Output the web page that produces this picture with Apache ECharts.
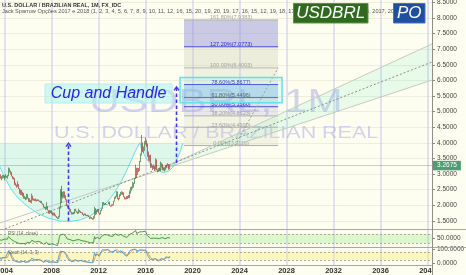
<!DOCTYPE html>
<html>
<head>
<meta charset="utf-8">
<script src="https://cdn.jsdelivr.net/npm/echarts@6.0.0/dist/echarts.min.js"></script>
<style>
html,body{margin:0;padding:0;background:#fefef0;}
#chart{width:466px;height:275px;}
</style>
</head>
<body>
<div id="chart"></div>
<script>
// ---------------- DATA ----------------
const months = [
'2003-07','2003-08','2003-09','2003-10','2003-11','2003-12',
'2004-01','2004-02','2004-03','2004-04','2004-05','2004-06','2004-07','2004-08','2004-09','2004-10','2004-11','2004-12',
'2005-01','2005-02','2005-03','2005-04','2005-05','2005-06','2005-07','2005-08','2005-09','2005-10','2005-11','2005-12',
'2006-01','2006-02','2006-03','2006-04','2006-05','2006-06','2006-07','2006-08','2006-09','2006-10','2006-11','2006-12',
'2007-01','2007-02','2007-03','2007-04','2007-05','2007-06','2007-07','2007-08','2007-09','2007-10','2007-11','2007-12',
'2008-01','2008-02','2008-03','2008-04','2008-05','2008-06','2008-07','2008-08','2008-09','2008-10','2008-11','2008-12',
'2009-01','2009-02','2009-03','2009-04','2009-05','2009-06','2009-07','2009-08','2009-09','2009-10','2009-11','2009-12',
'2010-01','2010-02','2010-03','2010-04','2010-05','2010-06','2010-07','2010-08','2010-09','2010-10','2010-11','2010-12',
'2011-01','2011-02','2011-03','2011-04','2011-05','2011-06','2011-07','2011-08','2011-09','2011-10','2011-11','2011-12',
'2012-01','2012-02','2012-03','2012-04','2012-05','2012-06','2012-07','2012-08','2012-09','2012-10','2012-11','2012-12',
'2013-01','2013-02','2013-03','2013-04','2013-05','2013-06','2013-07','2013-08','2013-09','2013-10','2013-11','2013-12',
'2014-01','2014-02','2014-03','2014-04','2014-05','2014-06','2014-07','2014-08','2014-09','2014-10','2014-11','2014-12',
'2015-01','2015-02','2015-03','2015-04','2015-05','2015-06','2015-07','2015-08','2015-09','2015-10','2015-11','2015-12',
'2016-01','2016-02','2016-03','2016-04','2016-05','2016-06','2016-07','2016-08','2016-09','2016-10','2016-11','2016-12',
'2017-01','2017-02','2017-03','2017-04','2017-05','2017-06','2017-07','2017-08','2017-09','2017-10','2017-11','2017-12',
'2018-01','2018-02'];

const opens = [
2.87,2.97,2.97,2.92,2.86,2.95,
2.89,2.94,2.91,2.91,2.94,3.13,3.11,3.03,2.93,2.86,2.86,2.73,
2.65,2.63,2.60,2.67,2.53,2.40,2.35,2.39,2.36,2.22,2.25,2.21,
2.34,2.22,2.13,2.16,2.09,2.30,2.16,2.18,2.14,2.17,2.14,2.17,
2.14,2.12,2.12,2.05,2.03,1.93,1.93,1.88,1.96,1.83,1.74,1.78,
1.78,1.76,1.68,1.75,1.66,1.63,1.60,1.56,1.63,1.91,2.12,2.33,
2.31,2.31,2.38,2.31,2.18,1.97,1.95,1.87,1.88,1.78,1.74,1.75,
1.74,1.87,1.81,1.78,1.73,1.82,1.80,1.76,1.76,1.69,1.70,1.72,
1.66,1.67,1.66,1.63,1.57,1.58,1.56,1.55,1.59,1.85,1.72,1.81,
1.87,1.74,1.71,1.82,1.89,2.02,2.02,2.05,2.03,2.03,2.03,2.10,
2.05,1.99,1.98,2.01,2.00,2.13,2.22,2.29,2.39,2.22,2.20,2.33,
2.36,2.41,2.33,2.26,2.23,2.24,2.20,2.26,2.24,2.45,2.47,2.57,
2.66,2.68,2.86,3.20,3.00,3.17,3.10,3.41,3.62,3.96,3.86,3.87,
3.96,4.00,3.98,3.59,3.44,3.61,3.21,3.24,3.23,3.25,3.18,3.40,
3.26,3.13,3.10,3.17,3.19,3.24,3.31,3.12,3.15,3.17,3.28,3.27,
3.31,3.16];

const highs = [
3.00,3.10,2.99,2.93,2.97,2.96,
2.95,2.99,2.94,2.97,3.21,3.18,3.11,3.06,2.94,2.90,2.87,2.79,
2.72,2.66,2.77,2.68,2.54,2.50,2.49,2.43,2.39,2.30,2.26,2.37,
2.35,2.24,2.22,2.17,2.37,2.31,2.22,2.20,2.22,2.18,2.19,2.18,
2.15,2.14,2.14,2.06,2.04,1.96,1.95,2.10,1.97,1.84,1.84,1.83,
1.82,1.77,1.76,1.76,1.70,1.65,1.61,1.66,1.96,2.52,2.45,2.62,
2.42,2.45,2.44,2.32,2.19,2.02,1.99,1.91,1.88,1.79,1.77,1.78,
1.88,1.89,1.82,1.79,1.89,1.84,1.81,1.78,1.77,1.72,1.74,1.73,
1.69,1.69,1.68,1.63,1.64,1.62,1.59,1.65,1.95,1.90,1.86,1.88,
1.88,1.75,1.84,1.90,2.10,2.10,2.06,2.07,2.04,2.04,2.11,2.12,
2.06,1.99,2.03,2.03,2.14,2.27,2.30,2.45,2.44,2.24,2.35,2.42,
2.45,2.43,2.41,2.28,2.25,2.29,2.30,2.33,2.47,2.58,2.60,2.75,
2.72,2.88,3.30,3.20,3.20,3.19,3.42,3.66,4.25,4.01,3.88,4.05,
4.17,4.08,3.98,3.72,3.61,3.62,3.34,3.27,3.31,3.26,3.50,3.47,
3.28,3.14,3.18,3.21,3.40,3.36,3.32,3.21,3.21,3.28,3.30,3.35,
3.32,3.28];

const lows = [
2.83,2.95,2.85,2.80,2.85,2.87,
2.80,2.88,2.87,2.85,2.93,3.05,2.98,2.92,2.84,2.82,2.72,2.65,
2.62,2.56,2.59,2.52,2.37,2.33,2.32,2.28,2.21,2.20,2.16,2.18,
2.21,2.11,2.10,2.08,2.06,2.15,2.15,2.13,2.13,2.12,2.13,2.13,
2.10,2.07,2.05,2.01,1.92,1.90,1.85,1.86,1.83,1.73,1.72,1.75,
1.72,1.67,1.67,1.66,1.63,1.59,1.56,1.56,1.61,1.89,2.07,2.27,
2.21,2.24,2.22,2.16,1.97,1.92,1.86,1.80,1.77,1.70,1.70,1.71,
1.72,1.80,1.76,1.72,1.73,1.77,1.75,1.74,1.69,1.65,1.68,1.66,
1.65,1.65,1.62,1.56,1.57,1.56,1.53,1.54,1.58,1.68,1.71,1.78,
1.74,1.69,1.71,1.81,1.88,2.01,2.00,2.01,2.01,2.02,2.03,2.04,
1.98,1.95,1.96,1.98,1.99,2.12,2.20,2.26,2.19,2.15,2.20,2.29,
2.34,2.33,2.26,2.19,2.18,2.19,2.20,2.23,2.22,2.37,2.46,2.53,
2.56,2.68,2.84,2.88,2.97,3.06,3.10,3.38,3.59,3.71,3.67,3.74,
3.94,3.87,3.55,3.43,3.40,3.19,3.20,3.13,3.16,3.12,3.15,3.24,
3.13,3.05,3.07,3.09,3.09,3.22,3.12,3.11,3.08,3.12,3.20,3.25,
3.14,3.15];

const closes = [
2.97,2.97,2.92,2.86,2.95,2.89,
2.94,2.91,2.91,2.94,3.13,3.11,3.03,2.93,2.86,2.86,2.73,2.65,
2.63,2.60,2.67,2.53,2.40,2.35,2.39,2.36,2.22,2.25,2.21,2.34,
2.22,2.13,2.16,2.09,2.30,2.16,2.18,2.14,2.17,2.14,2.17,2.14,
2.12,2.12,2.05,2.03,1.93,1.93,1.88,1.96,1.83,1.74,1.78,1.78,
1.76,1.68,1.75,1.66,1.63,1.60,1.56,1.63,1.91,2.12,2.33,2.31,
2.31,2.38,2.31,2.18,1.97,1.95,1.87,1.88,1.78,1.74,1.75,1.74,
1.87,1.81,1.78,1.73,1.82,1.80,1.76,1.76,1.69,1.70,1.72,1.66,
1.67,1.66,1.63,1.57,1.58,1.56,1.55,1.59,1.85,1.72,1.81,1.87,
1.74,1.71,1.82,1.89,2.02,2.02,2.05,2.03,2.03,2.03,2.10,2.05,
1.99,1.98,2.01,2.00,2.13,2.22,2.29,2.39,2.22,2.20,2.33,2.36,
2.41,2.33,2.26,2.23,2.24,2.20,2.26,2.24,2.45,2.47,2.57,2.66,
2.68,2.86,3.20,3.00,3.17,3.10,3.41,3.62,3.96,3.86,3.87,3.96,
4.00,3.98,3.59,3.44,3.61,3.21,3.24,3.23,3.25,3.18,3.40,3.26,
3.13,3.10,3.17,3.19,3.24,3.31,3.12,3.15,3.17,3.28,3.27,3.31,
3.16,3.2675];

const rsi = [
45,46,44,42,46,44,
47,45,45,47,58,56,52,46,42,42,37,33,
32,31,38,30,26,25,29,28,23,26,24,33,
28,25,30,26,42,34,36,34,37,35,37,35,
34,34,30,29,24,25,23,33,26,22,27,27,
26,22,30,23,21,20,18,30,55,66,72,70,
69,70,66,58,48,47,44,45,40,38,39,38,
47,43,41,38,45,43,40,40,35,36,38,34,
35,34,32,29,30,29,28,33,58,48,54,57,
49,47,55,59,66,66,67,66,66,66,69,65,
60,59,61,60,67,71,73,76,64,62,67,68,
70,64,59,57,58,55,59,57,68,68,71,75,
75,80,85,72,76,72,79,82,86,80,80,82,
82,80,63,57,62,50,51,50,51,48,56,51,
47,46,49,50,51,54,47,48,49,53,53,54,
48,52];

const stochK = [
40,45,35,25,40,30,
40,38,38,45,85,80,68,45,30,28,15,8,
8,8,20,10,5,8,15,12,5,8,6,18,
12,8,15,10,35,22,25,20,24,22,26,22,
18,20,12,10,5,6,5,22,10,4,10,10,
8,4,12,6,4,3,2,12,60,85,90,85,
80,85,76,60,38,30,22,22,12,8,10,9,
25,20,18,12,25,22,18,18,8,10,15,5,
8,8,5,3,5,3,2,10,75,50,65,72,
55,48,70,80,95,94,95,92,92,92,97,90,
78,75,80,78,90,94,96,98,75,72,85,88,
90,78,62,52,55,48,62,55,88,88,94,97,
96,98,98,80,88,82,95,97,98,88,86,92,
94,90,60,45,55,25,28,25,28,20,40,30,
18,12,22,25,32,40,20,25,28,45,45,50,
35,48];

const stochD = [
42,43,40,35,33,32,
37,36,39,40,56,70,78,64,48,34,24,17,
10,8,12,13,11,8,9,12,11,8,6,11,
12,13,12,11,20,22,27,22,23,22,24,23,
22,20,17,14,9,7,5,11,12,12,8,8,
9,7,8,7,7,4,3,6,25,52,78,87,
85,83,80,74,58,43,30,25,19,14,10,9,
15,18,21,17,18,20,22,19,15,12,11,10,
9,7,7,5,5,4,3,5,29,45,63,62,
64,58,58,66,82,90,95,94,93,92,94,93,
88,81,78,78,83,87,93,96,90,82,77,82,
88,85,77,64,56,52,55,55,68,77,90,93,
96,97,97,92,89,83,88,91,97,94,91,89,
91,92,81,65,53,42,36,26,27,24,29,30,
29,20,17,20,26,32,31,28,24,33,39,47,
43,44];

const lastPrice = 3.2675;

// axis ticks
const yearTicks = [2004, 2008, 2012, 2016, 2020, 2024, 2028, 2032, 2036, 2040];
const priceTicks = [1.5, 2, 2.5, 3, 3.5, 4, 4.5, 5, 5.5, 6, 6.5, 7, 7.5, 8, 8.5];
const rsiTicks = [50];
const stochTicks = [0, 100];
const rsiBand = [30, 70];
const stochBand = [20, 80];

// drawings (time in decimal years, price)
const cupYears  = [2003.106,2003.277,2003.617,2004.043,2004.553,2005.149,2005.915,2006.766,2007.702,2008.723,2009.574,2010.426,2011.277,2012.128,2012.809,2013.404,2013.915,2014.340,2014.766,2015.106,2015.362,2015.532];
const cupPrices = [4.00,3.609,3.224,2.872,2.519,2.231,1.974,1.750,1.590,1.494,1.478,1.526,1.654,1.878,2.135,2.423,2.744,3.064,3.417,3.705,3.897,4.00];
const handleYears  = [2015.532,2015.70,2016.04,2016.47,2016.98,2017.49,2018.00,2018.43,2018.77,2019.02,2019.19];
const handlePrices = [4.00,3.769,3.513,3.288,3.128,3.048,3.096,3.256,3.545,3.801,4.00];

const trendA = [[2004.04, 1.24], [2040.38, 6.59]];      // dotted
const trendB = [[2003.62, 1.43], [2040.38, 6.01]];      // channel lower
const trendC = [[2016.81, 3.07], [2040.38, 7.17]];      // channel upper
const trendD = [[2023.62, 3.9116], [2027.28, 6.4003]];  // fib trend line

const fibRatios = [0, 0.236, 0.382, 0.5, 0.618, 0.786, 1, 1.272, 1.618];
const fibPrices = [3.9116, 4.4990, 4.8623, 5.1560, 5.4496, 5.8677, 6.4003, 7.0773, 7.9383];
const fibSpan = [2019.28, 2027.28];

const targetBox = [[2018.94, 6.093], [2027.62, 5.285]];
const titleBox = [[2007.45, 5.885], [2018.26, 5.276]];
const titleText = 'Cup and Handle';
const arrows = [
  [[2009.45, 1.49], [2009.45, 3.99]],
  [[2018.64, 3.35], [2018.64, 5.79]]
];

// ---------------- STYLE ----------------
const FONT = '"Liberation Sans", Arial, sans-serif';
const X_MIN = 2003.62, X_MAX = 2040.38;
const fibBandFill = ['rgba(205,205,185,0.22)','rgba(205,205,185,0.22)','rgba(180,180,230,0.30)','rgba(170,185,230,0.40)','rgba(140,180,230,0.50)','rgba(205,205,185,0.25)','rgba(205,205,180,0.35)','rgba(150,150,215,0.50)'];
const fibLineColor = ['#b0b0a8','#b0b0a8','#b0b0a8','#4a4ad8','#5f705f','#4a4ad8','#b8b8b0','#4a4ad8','#b0b0a8'];
const fibTextColor = ['#a0a0a0','#a0a0a0','#a0a0a0','#2a2ad0','#505a50','#2a2ad0','#a0a0a0','#2a2ad0','#a0a0a0'];

const toYear = s => +s.slice(0, 4) + (+s.slice(5, 7) - 1) / 12;
const candleData = months.map((m, i) => [toYear(m), opens[i], closes[i], lows[i], highs[i]]);
const rsiData = months.map((m, i) => [toYear(m), rsi[i]]);
const kData = months.map((m, i) => [toYear(m), stochK[i]]);
const dData = months.map((m, i) => [toYear(m), stochD[i]]);

function overlay(z, build) {
  return {
    type: 'custom', xAxisIndex: 0, yAxisIndex: 0, z: z, silent: true, clip: true,
    data: [[2010, 3]], encode: { x: 0, y: 1 },
    renderItem: (params, api) => ({ type: 'group', children: build(api) })
  };
}
const pts = (api, xs, ys) => xs.map((x, i) => api.coord([x, ys[i]]));

const cupSeries = overlay(3, api => {
  const cup = pts(api, cupYears, cupPrices);
  const handle = pts(api, handleYears, handlePrices);
  return [
    { type: 'polygon', shape: { points: cup }, style: { fill: 'rgba(60,222,215,0.17)' } },
    { type: 'polygon', shape: { points: handle }, style: { fill: 'rgba(60,222,215,0.17)' } },
    { type: 'polyline', shape: { points: cup }, style: { stroke: '#62e2e8', lineWidth: 1, fill: null } },
    { type: 'polyline', shape: { points: handle }, style: { stroke: '#62e2e8', lineWidth: 1, fill: null } }
  ];
});

const channelSeries = overlay(4, api => {
  const a0 = api.coord(trendA[0]), a1 = api.coord(trendA[1]);
  const b0 = api.coord(trendB[0]), b1 = api.coord(trendB[1]);
  const c0 = api.coord(trendC[0]), c1 = api.coord(trendC[1]);
  const d0 = api.coord(trendD[0]), d1 = api.coord(trendD[1]);
  return [
    { type: 'polygon', shape: { points: [c0, c1, b1] }, style: { fill: 'rgba(120,235,200,0.16)' } },
    { type: 'line', shape: { x1: b0[0], y1: b0[1], x2: b1[0], y2: b1[1] }, style: { stroke: '#c6c9c0', lineWidth: 1 } },
    { type: 'line', shape: { x1: c0[0], y1: c0[1], x2: c1[0], y2: c1[1] }, style: { stroke: '#c6c9c0', lineWidth: 1 } },
    { type: 'line', shape: { x1: a0[0], y1: a0[1], x2: a1[0], y2: a1[1] }, style: { stroke: '#8c8c8c', lineWidth: 1, lineDash: [2, 2] } },
    { type: 'line', shape: { x1: d0[0], y1: d0[1], x2: d1[0], y2: d1[1] }, style: { stroke: '#9a9a9a', lineWidth: 1, lineDash: [2, 2] } }
  ];
});

const fibSeries = overlay(3, api => {
  const out = [];
  for (let i = 0; i < fibPrices.length - 1; i++) {
    const p0 = api.coord([fibSpan[0], fibPrices[i + 1]]);
    const p1 = api.coord([fibSpan[1], fibPrices[i]]);
    out.push({ type: 'rect', shape: { x: p0[0], y: p0[1], width: p1[0] - p0[0], height: p1[1] - p0[1] }, style: { fill: fibBandFill[i] } });
  }
  fibPrices.forEach((p, i) => {
    const l = api.coord([fibSpan[0], p]), r = api.coord([fibSpan[1], p]);
    out.push({ type: 'line', shape: { x1: l[0], y1: l[1], x2: r[0], y2: r[1] }, style: { stroke: fibLineColor[i], lineWidth: 1 } });
    out.push({ type: 'text', x: (l[0] + r[0]) / 2, y: l[1] + 1, style: {
      text: (fibRatios[i] * 100).toFixed(2) + '%(' + p.toFixed(4) + ')',
      fill: fibTextColor[i], font: '5.5px ' + FONT, align: 'center', verticalAlign: 'bottom' } });
  });
  return out;
});

const noteSeries = overlay(8, api => {
  const out = [];
  const t0 = api.coord(targetBox[0]), t1 = api.coord(targetBox[1]);
  out.push({ type: 'rect', shape: { x: t0[0], y: t0[1], width: t1[0] - t0[0], height: t1[1] - t0[1] },
    style: { fill: 'rgba(80,230,230,0.12)', stroke: '#5fe3e6', lineWidth: 1.5 } });
  const b0 = api.coord(titleBox[0]), b1 = api.coord(titleBox[1]);
  out.push({ type: 'rect', shape: { x: b0[0], y: b0[1], width: b1[0] - b0[0], height: b1[1] - b0[1] },
    style: { fill: 'rgba(170,240,240,0.55)', stroke: '#b6eeee', lineWidth: 1 } });
  out.push({ type: 'text', x: (b0[0] + b1[0]) / 2, y: (b0[1] + b1[1]) / 2 + 0.5, style: {
    text: titleText, fill: '#2626e0', font: 'italic 16px ' + FONT, align: 'center', verticalAlign: 'middle' } });
  arrows.forEach(a => {
    const s = api.coord(a[0]), e = api.coord(a[1]);
    out.push({ type: 'line', shape: { x1: s[0], y1: s[1], x2: e[0], y2: e[1] }, style: { stroke: '#3a3ae8', lineWidth: 1.6, lineDash: [3.5, 2.5] } });
    out.push({ type: 'polyline', shape: { points: [[e[0] - 2.5, e[1] + 3.5], [e[0], e[1]], [e[0] + 2.5, e[1] + 3.5]] }, style: { stroke: '#3a3ae8', lineWidth: 1.4, fill: null } });
  });
  return out;
});

const grids = [
  { left: 0, right: 34, top: 0, height: 229, outerBoundsMode: 'none' },
  { left: 0, right: 34, top: 229, height: 18, outerBoundsMode: 'none' },
  { left: 0, right: 34, top: 247, height: 18, outerBoundsMode: 'none' }
];
const vLine = { show: true, lineStyle: { color: 'rgba(205,205,240,0.8)', width: 1.5 } };
const xAxes = [0, 1, 2].map(i => ({
  type: 'value', gridIndex: i, min: X_MIN, max: X_MAX,
  axisLine: { show: false },
  axisTick: { show: false, customValues: yearTicks },
  axisLabel: i === 2 ? { show: true, customValues: yearTicks, formatter: v => String(Math.round(v)),
    fontSize: 7.5, fontWeight: 'bold', color: '#333', fontFamily: FONT, margin: 2,
    alignMinLabel: 'center', alignMaxLabel: 'center', hideOverlap: false } : { show: false, customValues: yearTicks },
  splitLine: vLine
}));
const yLabel = { show: true, fontSize: 6.5, color: '#444', fontFamily: FONT, margin: 5, formatter: v => v.toFixed(4) };
const yAxes = [
  { type: 'value', gridIndex: 0, position: 'right', min: 1.237, max: 8.577,
    axisLine: { show: false }, axisTick: { show: true, length: 3, customValues: priceTicks, lineStyle: { color: '#888' } },
    axisLabel: Object.assign({ customValues: priceTicks }, yLabel),
    splitLine: { show: true, lineStyle: { color: '#efeedd', width: 1 } } },
  { type: 'value', gridIndex: 1, position: 'right', min: 12, max: 92,
    axisLine: { show: false }, axisTick: { show: true, length: 3, customValues: rsiTicks, lineStyle: { color: '#888' } },
    axisLabel: Object.assign({ customValues: rsiTicks }, yLabel), splitLine: { show: false } },
  { type: 'value', gridIndex: 2, position: 'right', min: -14, max: 114,
    axisLine: { show: false }, axisTick: { show: true, length: 3, customValues: stochTicks, lineStyle: { color: '#888' } },
    axisLabel: Object.assign({ customValues: stochTicks }, yLabel), splitLine: { show: false } }
];

const option = {
  animation: false,
  backgroundColor: '#fefef0',
  grid: grids,
  xAxis: xAxes,
  yAxis: yAxes,
  graphic: [
    { type: 'text', x: 216, y: 103, z: 1, scaleX: 1.28, originX: 0, originY: 0, style: { text: 'USDBRL, 1M', fill: 'rgba(150,150,232,0.42)', font: '33px ' + FONT, align: 'center', verticalAlign: 'middle' } },
    { type: 'text', x: 216, y: 133, z: 1, scaleX: 1.3, originX: 0, originY: 0, style: { text: 'U.S. DOLLAR / BRAZILIAN REAL', fill: 'rgba(150,150,232,0.42)', font: '16.5px ' + FONT, align: 'center', verticalAlign: 'middle' } },
    { type: 'text', x: 2, y: 5, z: 50, style: { text: 'U.S. DOLLAR / BRAZILIAN REAL, 1M, FX_IDC', fill: '#333', font: 'bold 5.5px ' + FONT, verticalAlign: 'middle' } },
    { type: 'text', x: 2, y: 11.5, z: 50, style: { text: 'Jack Sparrow Opções 2017 e 2018 (1, 2, 3, 4, 5, 6, 7, 8, 9, 10, 11, 12, 16, 15, 20, 19, 20, 19, 17, 16, 15, 12, 19, 18, 17, 16, 21, 20, 19, 18, 17, 16, 15, 2017, 2018 (1, 2, 3, 4', fill: '#555', font: '5.6px ' + FONT, verticalAlign: 'middle' } },
    { type: 'rect', z: 60, shape: { x: 293.5, y: 3.5, width: 74.5, height: 19.5 }, style: { fill: '#2f6a1f', stroke: '#5f8f4a', lineWidth: 1 } },
    { type: 'text', z: 61, x: 330.7, y: 13.5, style: { text: 'USDBRL', fill: '#fff', font: 'italic 17px ' + FONT, align: 'center', verticalAlign: 'middle' } },
    { type: 'rect', z: 60, shape: { x: 393.5, y: 3.5, width: 31.5, height: 19.5 }, style: { fill: '#1f4f9f', stroke: '#4b72b8', lineWidth: 1 } },
    { type: 'text', z: 61, x: 409.2, y: 13.5, style: { text: 'PO', fill: '#fff', font: 'italic 17px ' + FONT, align: 'center', verticalAlign: 'middle' } },
    { type: 'text', z: 50, x: 8, y: 233.5, style: { text: 'RSI (14, close)', fill: '#666', font: '4.5px ' + FONT, verticalAlign: 'middle' } },
    { type: 'text', z: 50, x: 8, y: 252.5, style: { text: 'Stoch (14, 3, 3)', fill: '#666', font: '4.5px ' + FONT, verticalAlign: 'middle' } },
    { type: 'rect', z: 40, shape: { x: 432.5, y: 265.5, width: 34, height: 10 }, style: { fill: '#fefef0' } },
    { type: 'line', z: 45, shape: { x1: 0, y1: 229.5, x2: 466, y2: 229.5 }, style: { stroke: '#a8a8a0', lineWidth: 1 } },
    { type: 'line', z: 45, shape: { x1: 0, y1: 247.5, x2: 466, y2: 247.5 }, style: { stroke: '#a8a8a0', lineWidth: 1 } },
    { type: 'line', z: 45, shape: { x1: 0, y1: 265.5, x2: 432, y2: 265.5 }, style: { stroke: '#a8a8a0', lineWidth: 1 } },
    { type: 'line', z: 45, shape: { x1: 432.5, y1: 0, x2: 432.5, y2: 275 }, style: { stroke: '#8f8f88', lineWidth: 1 } }
  ],
  series: [
    cupSeries,
    fibSeries,
    channelSeries,
    {
      type: 'candlestick', xAxisIndex: 0, yAxisIndex: 0, z: 5, silent: true,
      data: candleData, encode: { x: 0, y: [1, 2, 3, 4] },
      barWidth: 1.2,
      itemStyle: { color: '#2c7a3a', color0: '#a3302a', borderColor: '#2c7a3a', borderColor0: '#a3302a', borderWidth: 0.7 },
      markLine: {
        silent: true, symbol: 'none', animation: false,
        lineStyle: { color: 'rgba(90,175,130,0.45)', type: 'solid', width: 1 },
        label: { show: true, position: 'end', distance: 1, formatter: () => lastPrice.toFixed(4),
          backgroundColor: '#4f9d73', color: '#fff', fontSize: 6.5, fontFamily: FONT, padding: [1.5, 4, 1, 4] },
        data: [{ yAxis: lastPrice }]
      }
    },
    noteSeries,
    {
      type: 'line', xAxisIndex: 1, yAxisIndex: 1, data: rsiData, showSymbol: false, silent: true, z: 5,
      lineStyle: { color: '#3f8a3a', width: 0.9 },
      markArea: { silent: true, itemStyle: { color: 'rgba(140,225,110,0.28)' }, data: [[{ yAxis: rsiBand[0] }, { yAxis: rsiBand[1] }]] },
      markLine: { silent: true, symbol: 'none', label: { show: false }, lineStyle: { color: '#9a9a90', type: [2, 2], width: 0.8 },
        data: [{ yAxis: rsiBand[0] }, { yAxis: rsiBand[1] }] }
    },
    {
      type: 'line', xAxisIndex: 2, yAxisIndex: 2, data: kData, showSymbol: false, silent: true, z: 5,
      lineStyle: { color: '#3d9ddb', width: 0.9 },
      markArea: { silent: true, itemStyle: { color: 'rgba(250,235,110,0.38)' }, data: [[{ yAxis: stochBand[0] }, { yAxis: stochBand[1] }]] },
      markLine: { silent: true, symbol: 'none', label: { show: false }, lineStyle: { color: '#9a9a90', type: [2, 2], width: 0.8 },
        data: [{ yAxis: stochBand[0] }, { yAxis: stochBand[1] }] }
    },
    {
      type: 'line', xAxisIndex: 2, yAxisIndex: 2, data: dData, showSymbol: false, silent: true, z: 4,
      lineStyle: { color: '#f39a3a', width: 0.9 }
    }
  ]
};

const chart = echarts.init(document.getElementById('chart'), null, { renderer: 'canvas' });
chart.setOption(option);
</script>
</body>
</html>
